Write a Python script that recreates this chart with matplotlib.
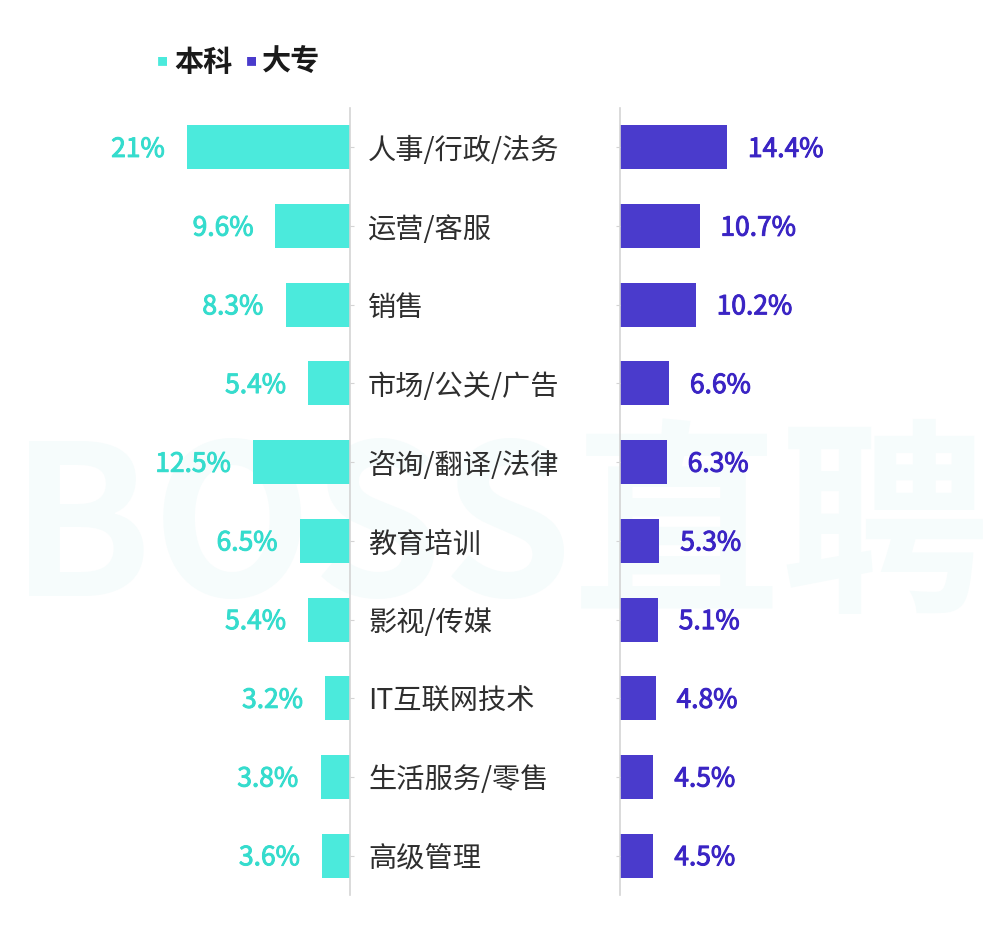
import matplotlib.pyplot as plt
import matplotlib.patheffects as pe
import numpy as np

plt.rcParams['font.family'] = ['Noto Sans CJK SC', 'DejaVu Sans']

categories = ['人事/行政/法务', '运营/客服', '销售', '市场/公关/广告', '咨询/翻译/法律',
              '教育培训', '影视/传媒', 'IT互联网技术', '生活服务/零售', '高级管理']
bachelor = [21, 9.6, 8.3, 5.4, 12.5, 6.5, 5.4, 3.2, 3.8, 3.6]
college = [14.4, 10.7, 10.2, 6.6, 6.3, 5.3, 5.1, 4.8, 4.5, 4.5]
series_names = ['本科', '大专']

cyan_bar = '#4beadc'
cyan_txt = '#35dccd'
purple_bar = '#4a3bcc'
purple_txt = '#3a24c4'
spine_c = '#d4d4d4'

W, H = 1000, 938
fig = plt.figure(figsize=(W / 100, H / 100), dpi=100)

# watermark, behind everything
fig.text(0.5, 0.43, 'BOSS直聘', fontsize=150, fontweight='bold', color='#f6fcfc',
         ha='center', va='center', zorder=0)

y = np.arange(len(categories))
bottom, top = (H - 895) / H, (H - 108) / H

axl = fig.add_axes([0, bottom, 350 / W, top - bottom], zorder=2)
axr = fig.add_axes([620 / W, bottom, 380 / W, top - bottom], zorder=2)

for ax in (axl, axr):
    ax.set_facecolor('none')
    ax.set_ylim(len(categories) - 0.5, -0.5)
    for s in ax.spines.values():
        s.set_visible(False)
    ax.set_xticks([])

# left side (本科)
axl.barh(y, bachelor, height=0.56, color=cyan_bar)
axl.set_xlim(45.1, 0)
axl.spines['right'].set_visible(True)
axl.spines['right'].set_color(spine_c)
axl.spines['right'].set_linewidth(1.2)
axl.yaxis.tick_right()
axl.set_yticks(y)
axl.set_yticklabels(categories, fontsize=20.3, color='#2e2e2e')
axl.tick_params(axis='y', direction='out', length=3, color=spine_c, pad=10)
for yi, v in zip(y, bachelor):
    t = axl.annotate(f'{v:g}%', (v, yi), xytext=(-16, -1.5), textcoords='offset points',
                     ha='right', va='center', fontsize=19, color=cyan_txt)
    t.set_path_effects([pe.withStroke(linewidth=0.7, foreground=cyan_txt)])

# right side (大专)
axr.barh(y, college, height=0.56, color=purple_bar)
axr.set_xlim(0, 51.1)
axr.spines['left'].set_visible(True)
axr.spines['left'].set_color(spine_c)
axr.spines['left'].set_linewidth(1.2)
axr.set_yticks(y)
axr.set_yticklabels([])
axr.tick_params(axis='y', direction='out', length=3, color=spine_c)
for yi, v in zip(y, college):
    t = axr.annotate(f'{v:g}%', (v, yi), xytext=(15, -1.5), textcoords='offset points',
                     ha='left', va='center', fontsize=19, color=purple_txt)
    t.set_path_effects([pe.withStroke(linewidth=0.7, foreground=purple_txt)])

# legend
ly = (H - 62) / H
fig.text(162 / W, ly, '■', fontsize=8, color=cyan_bar, ha='center', va='center', zorder=3)
fig.text(174 / W, ly, series_names[0], fontsize=21, fontweight='heavy', color='#1a1a1a',
         ha='left', va='center', zorder=3)
fig.text(251 / W, ly, '■', fontsize=8, color=purple_bar, ha='center', va='center', zorder=3)
fig.text(262 / W, ly, series_names[1], fontsize=21, fontweight='heavy', color='#1a1a1a',
         ha='left', va='center', zorder=3)

fig.savefig('out.png', dpi=100, facecolor='white')
